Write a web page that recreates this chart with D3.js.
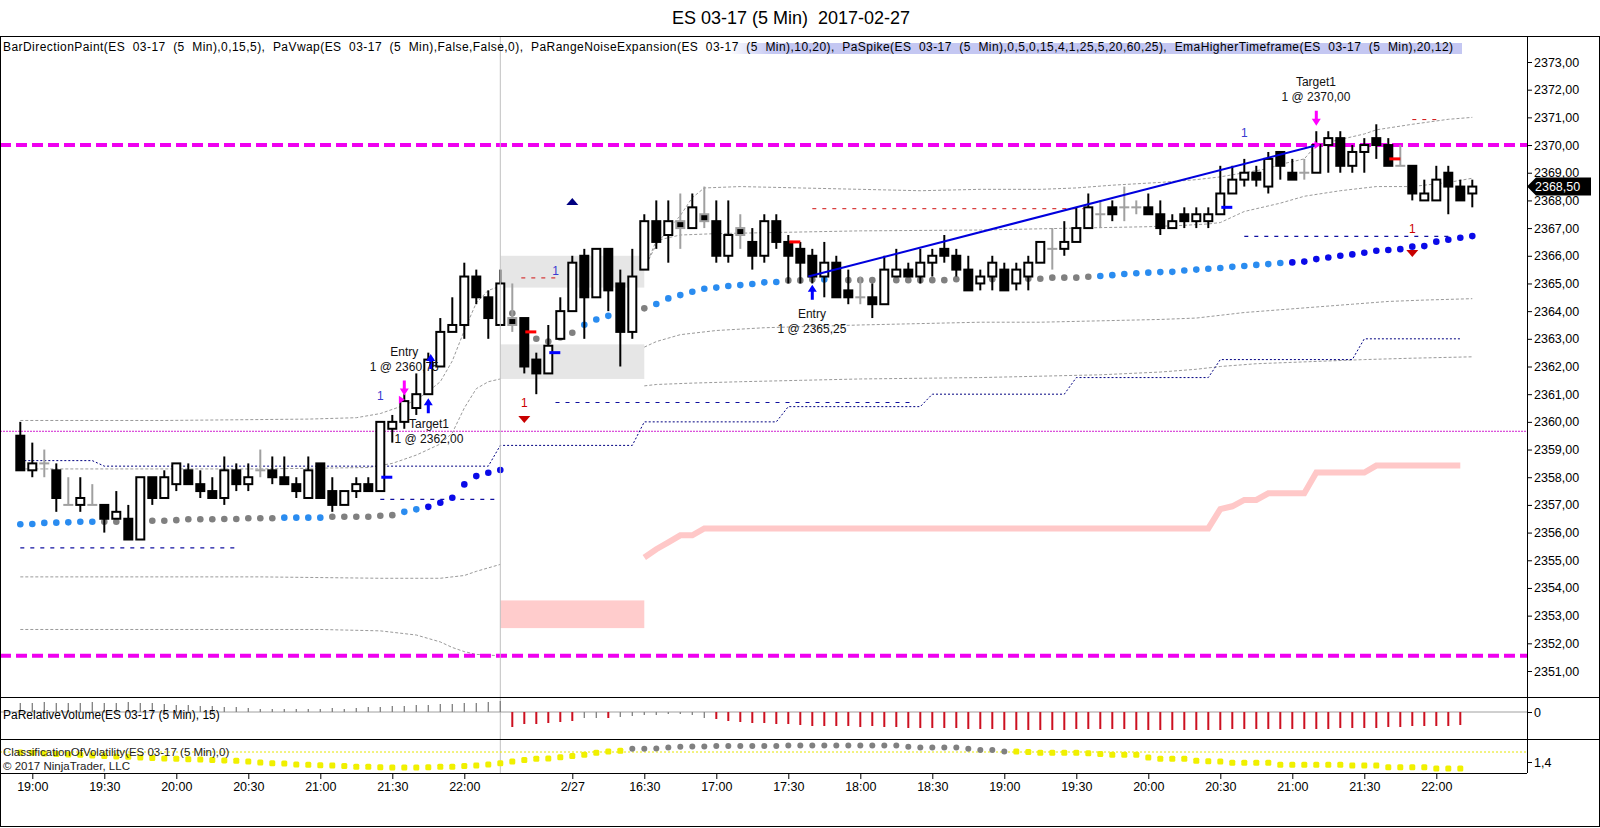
<!DOCTYPE html>
<html>
<head>
<meta charset="utf-8">
<script src="https://cdn.jsdelivr.net/npm/d3@7"></script>
<style>
body { margin: 0; background: #fff; }
svg { display: block; font-family: "Liberation Sans", Arial, sans-serif; }
</style>
</head>
<body>
<svg id="chart" width="1600" height="828"></svg>
<script>
////////////////////
/////// DATA ///////
////////////////////

// 5 min bars, index 0 = 18:55 first session, index 41 = 15:35 second session
var opens = [
  2359.5, 2358.25, 2358.5, 2358.25, 2357.0, 2357.0, 2357.0, 2357.0, 2356.5, 2356.5,
  2355.75, 2358.0, 2357.25, 2357.75, 2358.25, 2357.75, 2357.5, 2357.25, 2358.25, 2357.75,
  2358.25, 2358.25, 2358.0, 2357.75, 2357.25, 2358.5, 2357.5, 2357.0, 2357.5, 2357.75,
  2357.5, 2359.75, 2360.0, 2360.5, 2361.0, 2362.0, 2363.25, 2363.5, 2365.25, 2364.5,
  2363.5, 2363.75, 2363.75, 2362.25, 2361.75, 2363.0, 2364.0, 2366.0, 2364.5, 2366.25,
  2365.0, 2363.25, 2365.5, 2367.25, 2366.75, 2367.25, 2367.0, 2367.5, 2367.25, 2366.0,
  2367.0, 2366.5, 2366.0, 2367.25, 2366.5, 2366.25, 2366.0, 2365.25, 2365.75, 2364.75,
  2364.5, 2364.5, 2364.25, 2365.25, 2365.5, 2365.25, 2365.75, 2366.25, 2366.0, 2365.5,
  2365.0, 2365.25, 2365.5, 2365.0, 2365.25, 2365.75, 2366.25, 2366.25, 2366.5, 2367.0,
  2367.5, 2367.75, 2367.75, 2367.75, 2367.75, 2367.5, 2367.0, 2367.5, 2367.25, 2367.25,
  2367.5, 2368.25, 2368.75, 2369.0, 2368.5, 2369.75, 2369.0, 2369.0, 2369.0, 2370.0,
  2370.25, 2369.25, 2369.75, 2370.25, 2370.0, 2369.25, 2369.25, 2368.0, 2368.0, 2369.0,
  2368.5, 2368.25
];
var highs = [
  2360.0, 2359.25, 2359.0, 2358.5, 2358.0, 2358.0, 2357.75, 2357.0, 2357.5, 2357.0,
  2358.0, 2358.0, 2358.25, 2358.5, 2358.5, 2358.25, 2358.0, 2358.75, 2358.5, 2358.5,
  2359.0, 2358.75, 2358.75, 2358.0, 2358.75, 2358.5, 2358.0, 2357.5, 2358.0, 2358.0,
  2360.0, 2360.25, 2361.0, 2361.75, 2362.5, 2363.75, 2364.5, 2365.75, 2365.5, 2364.75,
  2365.5, 2365.0, 2363.75, 2362.5, 2363.5, 2364.5, 2366.0, 2366.25, 2366.25, 2366.25,
  2365.5, 2366.25, 2367.5, 2368.0, 2368.0, 2368.25, 2368.25, 2368.5, 2368.0, 2368.0,
  2367.5, 2367.0, 2367.5, 2367.5, 2366.75, 2366.5, 2366.25, 2366.5, 2366.0, 2365.5,
  2365.25, 2365.0, 2366.0, 2366.25, 2365.75, 2366.25, 2366.25, 2366.75, 2366.25, 2366.0,
  2365.5, 2366.0, 2365.75, 2365.75, 2366.0, 2366.5, 2367.0, 2367.25, 2367.75, 2368.25,
  2368.0, 2368.0, 2368.5, 2368.0, 2368.25, 2368.0, 2367.5, 2367.75, 2367.75, 2367.75,
  2369.25, 2369.25, 2369.5, 2369.25, 2369.75, 2369.75, 2369.5, 2369.5, 2370.5, 2370.5,
  2370.5, 2370.0, 2370.25, 2370.75, 2370.25, 2370.0, 2369.25, 2368.75, 2369.25, 2369.25,
  2368.75, 2368.75
];
var lows = [
  2358.25, 2358.0, 2358.0, 2356.75, 2357.0, 2356.75, 2357.0, 2356.0, 2356.5, 2355.75,
  2355.75, 2357.0, 2357.25, 2357.5, 2357.75, 2357.25, 2357.25, 2357.0, 2357.5, 2357.5,
  2358.0, 2357.75, 2357.75, 2357.25, 2357.25, 2357.25, 2356.75, 2357.0, 2357.25, 2357.5,
  2357.5, 2359.25, 2359.75, 2360.25, 2361.0, 2362.0, 2363.25, 2363.0, 2364.25, 2363.0,
  2363.5, 2363.25, 2361.75, 2361.0, 2361.75, 2363.0, 2364.0, 2363.0, 2364.5, 2364.0,
  2362.0, 2363.0, 2365.5, 2366.25, 2365.75, 2366.25, 2367.0, 2367.0, 2365.75, 2365.75,
  2366.25, 2365.5, 2365.75, 2366.25, 2365.0, 2365.0, 2365.0, 2364.5, 2364.5, 2364.25,
  2364.25, 2363.75, 2364.25, 2365.25, 2365.25, 2365.0, 2365.25, 2365.75, 2365.25, 2364.75,
  2364.75, 2364.75, 2364.75, 2364.75, 2364.75, 2365.75, 2365.5, 2366.0, 2366.5, 2367.0,
  2367.0, 2367.25, 2367.25, 2367.5, 2367.5, 2366.75, 2367.0, 2367.0, 2367.0, 2367.0,
  2367.5, 2368.25, 2368.5, 2368.5, 2368.25, 2368.75, 2368.75, 2368.75, 2369.0, 2369.0,
  2369.0, 2369.0, 2369.0, 2369.5, 2369.25, 2369.25, 2368.0, 2368.0, 2368.0, 2367.5,
  2368.0, 2367.75
];
var closes = [
  2358.25, 2358.5, 2358.5, 2357.25, 2357.0, 2357.25, 2357.0, 2356.5, 2356.75, 2355.75,
  2358.0, 2357.25, 2358.0, 2358.5, 2357.75, 2357.5, 2357.25, 2358.25, 2357.75, 2358.0,
  2358.25, 2358.0, 2357.75, 2357.5, 2358.25, 2357.25, 2357.0, 2357.5, 2357.75, 2357.5,
  2360.0, 2360.0, 2360.75, 2361.0, 2362.25, 2363.25, 2363.5, 2365.25, 2364.5, 2363.75,
  2365.0, 2363.5, 2362.0, 2361.75, 2362.75, 2364.0, 2365.75, 2364.5, 2366.25, 2364.75,
  2363.25, 2365.25, 2367.25, 2366.5, 2367.25, 2367.0, 2367.75, 2367.25, 2366.0, 2366.75,
  2366.75, 2366.0, 2367.25, 2366.5, 2366.0, 2365.75, 2365.25, 2365.75, 2364.5, 2364.5,
  2364.5, 2364.25, 2365.5, 2365.5, 2365.25, 2365.75, 2366.0, 2366.0, 2365.5, 2364.75,
  2365.25, 2365.75, 2364.75, 2365.5, 2365.75, 2366.5, 2366.25, 2366.5, 2367.0, 2367.75,
  2367.5, 2367.5, 2367.75, 2367.75, 2367.5, 2367.0, 2367.25, 2367.25, 2367.5, 2367.5,
  2368.25, 2368.75, 2369.0, 2368.75, 2369.5, 2369.25, 2368.75, 2369.0, 2370.0, 2370.25,
  2369.25, 2369.75, 2370.0, 2370.0, 2369.25, 2369.25, 2368.25, 2368.25, 2368.75, 2368.5,
  2368.0, 2368.5
];
// bars painted gray by BarDirectionPaint
var grayBars = [2, 4, 6, 20, 41, 55, 57, 60, 70, 86, 90, 92, 93, 107, 115];

// PaVwap dots and their colour (c = light blue, g = gray, b = blue)
var vwap = [
  2356.30, 2356.31, 2356.35, 2356.36, 2356.37, 2356.39, 2356.39, 2356.39, 2356.39, 2356.39,
  2356.39, 2356.43, 2356.43, 2356.45, 2356.48, 2356.48, 2356.48, 2356.49, 2356.49, 2356.52,
  2356.52, 2356.52, 2356.54, 2356.54, 2356.54, 2356.54, 2356.57, 2356.57, 2356.57, 2356.57,
  2356.61, 2356.63, 2356.75, 2356.84, 2356.93, 2357.08, 2357.26, 2357.74, 2358.04, 2358.16,
  2358.26,
  2363.92, 2363.44, 2363.00, 2362.90, 2363.05, 2363.22, 2363.51, 2363.70, 2363.83,
  2363.87, 2363.92, 2364.10, 2364.26, 2364.46, 2364.58, 2364.70, 2364.81, 2364.85, 2364.91,
  2364.94, 2364.98, 2365.04, 2365.05, 2365.11, 2365.11, 2365.14, 2365.14, 2365.12, 2365.12,
  2365.12, 2365.12, 2365.12, 2365.12, 2365.12, 2365.12, 2365.12, 2365.12, 2365.15, 2365.15,
  2365.15, 2365.15, 2365.15, 2365.15, 2365.17, 2365.17, 2365.21, 2365.21, 2365.21, 2365.24,
  2365.27, 2365.30, 2365.34, 2365.37, 2365.39, 2365.41, 2365.42, 2365.47, 2365.50, 2365.53,
  2365.56, 2365.60, 2365.63, 2365.67, 2365.70, 2365.74, 2365.76, 2365.79, 2365.88, 2365.94,
  2366.00, 2366.05, 2366.11, 2366.18, 2366.21, 2366.24, 2366.33, 2366.35, 2366.51, 2366.58,
  2366.65, 2366.71
];
var vwapColor =
  "ccccccc" + "ggggggggggggggg" + "cccc" + "gggggg" + "cc" + "bbbbbbb" +
  "gggggg" + "ccc" + "ggg" + "ccccccccccc" + "ggg" + "cc" +
  "ggggggggggggggggggggg" + "cccccccccccccccc" + "bbbbbbbbbbbbbbbb";

// PaVwap bands, [bar, price]
var s1Upper2 = [[0,2360.05],[12,2360.05],[24,2360.1],[28,2360.15],[30,2360.3],[31,2360.45],[32,2360.6],[33,2360.8],[34,2361.1],[35,2361.45],[36,2362.2],[37,2363.3],[38,2364.3],[39,2364.75],[40,2364.9]];
var s1Upper1 = [[0,2358.3],[20,2358.3],[29,2358.35],[31,2358.5],[33,2358.8],[35,2359.2],[36,2359.6],[37,2360.5],[38,2361.2],[39,2361.45],[40,2361.55]];
var s1Lower1 = [[0,2354.4],[20,2354.4],[30,2354.35],[35,2354.35],[37,2354.45],[38,2354.6],[40,2354.85]];
var s1Lower2 = [[0,2352.5],[25,2352.5],[30,2352.45],[33,2352.3],[35,2352.05],[36,2351.85],[37,2351.7],[38,2351.6],[40,2351.55]];
var s2Upper2 = [[52,2365.55],[53,2366.4],[54,2366.95],[55,2367.45],[56,2368.1],[57,2368.45],[60,2368.5],[65,2368.45],[70,2368.4],[75,2368.35],[80,2368.4],[85,2368.4],[88,2368.45],[91,2368.55],[95,2368.65],[98,2368.75],[100,2368.85],[102,2369.0],[104,2369.15],[105,2369.3],[107,2369.5],[108,2370.0],[110,2370.2],[112,2370.4],[113,2370.55],[116,2370.75],[119,2370.93],[121,2371.0]];
var s2Upper1 = [[52,2365.5],[53,2366.55],[55,2366.75],[58,2366.8],[64,2366.85],[70,2366.9],[80,2366.93],[88,2367.0],[94,2367.05],[97,2367.1],[99,2367.15],[100,2367.2],[102,2367.6],[105,2367.9],[107,2368.15],[110,2368.35],[113,2368.5],[116,2368.5],[119,2368.65],[121,2368.8]];
var s2Lower1 = [[52,2362.7],[53,2362.9],[55,2363.15],[58,2363.3],[62,2363.4],[66,2363.45],[70,2363.5],[75,2363.55],[80,2363.6],[85,2363.6],[90,2363.65],[95,2363.7],[98,2363.75],[100,2363.85],[102,2363.95],[105,2364.05],[108,2364.15],[111,2364.25],[114,2364.35],[117,2364.4],[121,2364.45]];
var s2Lower2 = [[52,2361.3],[53,2361.35],[56,2361.4],[60,2361.45],[65,2361.5],[70,2361.55],[80,2361.6],[90,2361.7],[95,2361.8],[98,2361.9],[100,2362.0],[103,2362.1],[106,2362.15],[109,2362.2],[112,2362.25],[116,2362.3],[121,2362.35]];

// EmaHigherTimeframe step line (navy) and the pink line, [bar, price]
var emaHtf = [[0,2358.6],[6,2358.6],[7,2358.4],[39,2358.4],[40,2359.15],[51,2359.15],[52,2360.0],[63,2360.0],[64,2360.55],[75,2360.55],[76,2361.0],[87,2361.0],[88,2361.6],[99,2361.6],[100,2362.25],[111,2362.25],[112,2363.0],[120,2363.0]];
var pinkLine = [[52,2355.1],[53,2355.4],[54,2355.65],[55,2355.9],[56,2355.9],[57,2356.15],[99,2356.15],[100,2356.85],[101,2356.95],[102,2357.18],[103,2357.18],[104,2357.42],[107,2357.42],[108,2358.17],[112,2358.17],[113,2358.42],[120,2358.42]];

// levels: [fromBar, toBar, price]
var redLevels = [[41.75,45,2365.2],[66,88.6,2367.7],[116,118.3,2370.92]];
var blueLevels = [[0,18.3,2355.45],[30,40,2357.2],[44.6,74.6,2360.7],[102,119.4,2366.7]];
var magentaThick = [2370.0, 2351.55];
var magentaThin = [2359.66];

// boxes: [fromBar, toBar, lowPrice, highPrice]
var grayBoxes = [[40,52,2364.85,2366.0],[40,52,2361.55,2362.8]];
var pinkBoxes = [[40,52,2352.55,2353.55]];

// trend line [bar, price]
var trendLine = [[65.67,2365.25],[108.1,2370.0]];

// trade markers
var entryTicks = [[30,2358.0],[44,2362.5],[100,2367.75]];
var exitTicks = [[42,2363.25],[64,2366.5],[114,2369.5]];
var sellArrows = [[32,2360.95],[108,2370.7]];
var buyArrows = [[34,2360.85],[34.2,2362.45],[66,2364.95]];
var fillFlags = [[31.8,2360.8],[108.1,2370.0]];
var redTriangles = [[42,2360.1],[116,2366.1]];
var navyTriangles = [[46,2367.94]];
var blueOnes = [[30,2360.97],[44.6,2365.5],[102,2370.47]];
var redOnes = [[42,2360.7],[116,2367.0]];
var tradeLabels = [
  {bar: 32, price: 2361.84, lines: ["Entry", "1 @ 2360,75"]},
  {bar: 34.06, price: 2359.24, lines: ["Target1", "1 @ 2362,00"]},
  {bar: 65.97, price: 2363.21, lines: ["Entry", "1 @ 2365,25"]},
  {bar: 107.97, price: 2371.59, lines: ["Target1", "1 @ 2370,00"]}
];

// PaRelativeVolume
var relVol = [
  9, 9, 10, 9, 9, 9, 10, 9, 9, 10,
  9, 9, 8, 7, 7, 6, 6, 5, 5, 4,
  3, 3, 3, 3, 3, 3, 4, 3, 4, 5,
  5, 6, 6, 7, 7, 8, 8, 9, 9, 10,
  11,
  -15, -12, -12, -11, -10, -9, -6, -6, -6,
  -5, -4, -3, -3, -2, -2, -3, -6, -7, -9,
  -10, -11, -11, -12, -12, -13, -14, -14, -14, -14,
  -15, -14, -15, -15, -16, -16, -16, -16, -16, -17,
  -17, -17, -18, -18, -18, -18, -18, -18, -17, -17,
  -17, -17, -17, -18, -18, -18, -18, -18, -18, -18,
  -18, -17, -17, -17, -17, -17, -17, -17, -17, -17,
  -16, -16, -16, -16, -15, -15, -14, -14, -14, -14, -13
];
var relVolColor =
  "ggggggggggggggggggggggggggggggggggggggggg" +
  "rrrrrr" + "gg" + "r" + "gggggggg" +
  "rrrrrrrrrrrrrrrrrrrrrrrrrrrrrrrrrrrrrrrrrrrrrrrrrrrrrrrrrrrrrrr";

// ClassificationOfVolatility
var volClass = [
  1.64, 1.63, 1.61, 1.60, 1.59, 1.58, 1.56, 1.55, 1.54, 1.53,
  1.51, 1.50, 1.49, 1.48, 1.47, 1.46, 1.45, 1.44, 1.43, 1.41,
  1.39, 1.37, 1.36, 1.34, 1.33, 1.32, 1.31, 1.30, 1.28, 1.28,
  1.27, 1.26, 1.26, 1.26, 1.27, 1.28, 1.28, 1.30, 1.31, 1.34,
  1.37,
  1.41, 1.45, 1.48, 1.49, 1.52, 1.55, 1.58, 1.63, 1.66,
  1.68, 1.73, 1.73, 1.74, 1.76, 1.78, 1.79, 1.79, 1.80, 1.80,
  1.80, 1.80, 1.80, 1.80, 1.81, 1.81, 1.81, 1.81, 1.81, 1.81,
  1.81, 1.81, 1.81, 1.81, 1.78, 1.76, 1.76, 1.76, 1.76, 1.73,
  1.70, 1.70, 1.66, 1.66, 1.65, 1.63, 1.63, 1.63, 1.63, 1.62,
  1.60, 1.58, 1.58, 1.58, 1.51, 1.48, 1.48, 1.48, 1.43, 1.42,
  1.41, 1.38, 1.38, 1.38, 1.38, 1.33, 1.33, 1.33, 1.33, 1.33,
  1.33, 1.31, 1.31, 1.31, 1.27, 1.27, 1.27, 1.27, 1.24, 1.24, 1.24
];
var volClassColor =
  "yyyyyyyyyyyyyyyyyyyyyyyyyyyyyyyyyyyyyyyyy" +
  "yyyyyyyyyy" + "gggggggggggggggggggggggggggggggg" +
  "yyyyyyyyyyyyyyyyyyyyyyyyyyyyyyyyyyyyyy";
var volThreshold = 1.65;

// axes
var priceTicks = [2351, 2352, 2353, 2354, 2355, 2356, 2357, 2358, 2359, 2360, 2361, 2362,
                  2363, 2364, 2365, 2366, 2367, 2368, 2369, 2370, 2371, 2372, 2373];
var timeTickBars = [1, 7, 13, 19, 25, 31, 37, 46, 52, 58, 64, 70, 76, 82, 88, 94, 100, 106, 112, 118];
var timeTickLabels = ["19:00", "19:30", "20:00", "20:30", "21:00", "21:30", "22:00", "2/27",
                      "16:30", "17:00", "17:30", "18:00", "18:30", "19:00", "19:30", "20:00",
                      "20:30", "21:00", "21:30", "22:00"];
var sessionBreakBar = 40;
var lastPrice = 2368.5;

var titleText = "ES 03-17 (5 Min)  2017-02-27";
var indicatorText = "BarDirectionPaint(ES  03-17  (5  Min),0,15,5),  PaVwap(ES  03-17  (5  Min),False,False,0),  PaRangeNoiseExpansion(ES  03-17  (5  Min),10,20),  PaSpike(ES  03-17  (5  Min),0,5,0,15,4,1,25,5,20,60,25),  EmaHigherTimeframe(ES  03-17  (5  Min),20,12)";

////////////////////
////// LAYOUT //////
////////////////////

var svg = d3.select("#chart");
var axisX = 1527;
var mainTop = 36, mainBottom = 697, volBottom = 739, covBottom = 773;

var x = d3.scaleLinear().domain([0, 121]).range([20.3, 1472.3]);
var y = d3.scaleLinear().domain([2351, 2373]).range([671, 62]);
var yVol = d3.scaleLinear().domain([-25, 15]).range([737, 697]);
var yCov = d3.scaleLinear().domain([1.125, 1.975]).range([773, 739]);
var fmt = function(v) { return v.toFixed(2).replace(".", ","); };

svg.append("rect").attr("width", 1600).attr("height", 828).attr("fill", "#fff");

var defs = svg.append("defs");
defs.append("clipPath").attr("id", "clipMain").append("rect")
  .attr("x", 0).attr("y", mainTop).attr("width", axisX).attr("height", mainBottom - mainTop);
var grad = defs.append("linearGradient").attr("id", "hl");
grad.append("stop").attr("offset", "0").attr("stop-color", "#c4c7f2").attr("stop-opacity", 0);
grad.append("stop").attr("offset", "0.06").attr("stop-color", "#c4c7f2").attr("stop-opacity", 1);
grad.append("stop").attr("offset", "1").attr("stop-color", "#c4c7f2").attr("stop-opacity", 1);

// title
svg.append("text").attr("x", 791).attr("y", 24).attr("text-anchor", "middle")
  .style("font-size", "18px").style("white-space", "pre").text(titleText);

var main = svg.append("g").attr("clip-path", "url(#clipMain)");

// indicator legend highlight
main.append("rect").attr("x", 728).attr("y", 43).attr("width", 734).attr("height", 11)
  .attr("fill", "url(#hl)");

// boxes
main.selectAll(".gbox").data(grayBoxes).enter().append("rect")
  .attr("x", function(d) { return x(d[0]); })
  .attr("width", function(d) { return x(d[1]) - x(d[0]); })
  .attr("y", function(d) { return y(d[3]); })
  .attr("height", function(d) { return y(d[2]) - y(d[3]); })
  .attr("fill", "#e6e6e6");
main.selectAll(".pbox").data(pinkBoxes).enter().append("rect")
  .attr("x", function(d) { return x(d[0]); })
  .attr("width", function(d) { return x(d[1]) - x(d[0]); })
  .attr("y", function(d) { return y(d[3]); })
  .attr("height", function(d) { return y(d[2]) - y(d[3]); })
  .attr("fill", "#ffcccc");

// session break
svg.append("line").attr("x1", x(sessionBreakBar)).attr("x2", x(sessionBreakBar))
  .attr("y1", mainTop).attr("y2", covBottom).attr("stroke", "#c0c0c0").attr("stroke-width", 1);

// thin magenta level
main.selectAll(".mthin").data(magentaThin).enter().append("line")
  .attr("x1", 0).attr("x2", axisX).attr("y1", function(d) { return y(d); }).attr("y2", function(d) { return y(d); })
  .attr("stroke", "#d020d0").attr("stroke-width", 1).attr("stroke-dasharray", "2,1");

var line = d3.line().x(function(d) { return x(d[0]); }).y(function(d) { return y(d[1]); });

// bands
[s1Upper2, s1Upper1, s1Lower1, s1Lower2, s2Upper2, s2Upper1, s2Lower1, s2Lower2].forEach(function(b) {
  main.append("path").attr("d", line(b)).attr("fill", "none")
    .attr("stroke", "#9a9a9a").attr("stroke-width", 1).attr("stroke-dasharray", "3,2");
});

// pink line
main.append("path").attr("d", line(pinkLine)).attr("fill", "none")
  .attr("stroke", "#ffc8c8").attr("stroke-width", 6);

// navy step line
main.append("path").attr("d", line(emaHtf)).attr("fill", "none")
  .attr("stroke", "#000080").attr("stroke-width", 1).attr("stroke-dasharray", "2,2");

// short levels
main.selectAll(".rlev").data(redLevels).enter().append("line")
  .attr("x1", function(d) { return x(d[0]); }).attr("x2", function(d) { return x(d[1]); })
  .attr("y1", function(d) { return y(d[2]); }).attr("y2", function(d) { return y(d[2]); })
  .attr("stroke", "#d01010").attr("stroke-width", 1).attr("stroke-dasharray", "4,6");
main.selectAll(".blev").data(blueLevels).enter().append("line")
  .attr("x1", function(d) { return x(d[0]); }).attr("x2", function(d) { return x(d[1]); })
  .attr("y1", function(d) { return y(d[2]); }).attr("y2", function(d) { return y(d[2]); })
  .attr("stroke", "#1010a0").attr("stroke-width", 1.2).attr("stroke-dasharray", "4,6");

// magenta thick levels
main.selectAll(".mthick").data(magentaThick).enter().append("line")
  .attr("x1", 0).attr("x2", axisX).attr("y1", function(d) { return y(d); }).attr("y2", function(d) { return y(d); })
  .attr("stroke", "#f000f0").attr("stroke-width", 4).attr("stroke-dasharray", "11,5");

// vwap dots
var dotColor = { c: "#2a8cf0", g: "#808080", b: "#0a0ae8" };
main.selectAll(".vw").data(vwap).enter().append("circle")
  .attr("cx", function(d, i) { return x(i); })
  .attr("cy", function(d) { return y(d); })
  .attr("r", 3.3)
  .attr("fill", function(d, i) { return dotColor[vwapColor[i]]; });

// candles
var bars = opens.map(function(o, i) {
  return { i: i, o: o, h: highs[i], l: lows[i], c: closes[i], gray: grayBars.indexOf(i) >= 0 };
});
var cg = main.append("g");
bars.forEach(function(b) {
  var col = b.gray ? "#a0a0a0" : "#000";
  var cx = x(b.i);
  cg.append("line").attr("x1", cx).attr("x2", cx).attr("y1", y(b.h)).attr("y2", y(b.l))
    .attr("stroke", col).attr("stroke-width", 2);
  if (b.o === b.c) {
    cg.append("line").attr("x1", cx - 5).attr("x2", cx + 5).attr("y1", y(b.o)).attr("y2", y(b.o))
      .attr("stroke", col).attr("stroke-width", 2);
  } else {
    var top = y(Math.max(b.o, b.c)), bot = y(Math.min(b.o, b.c));
    cg.append("rect").attr("x", cx - 4).attr("width", 8)
      .attr("y", top).attr("height", Math.max(bot - top, 1))
      .attr("fill", b.c > b.o ? "#fff" : "#000")
      .attr("stroke", col).attr("stroke-width", 2);
  }
});

// trend line
main.append("path").attr("d", line(trendLine)).attr("fill", "none")
  .attr("stroke", "#0000dd").attr("stroke-width", 2);

// entry / exit ticks
main.selectAll(".etick").data(entryTicks).enter().append("line")
  .attr("x1", function(d) { return x(d[0]) + 1; }).attr("x2", function(d) { return x(d[0] + 1); })
  .attr("y1", function(d) { return y(d[1]); }).attr("y2", function(d) { return y(d[1]); })
  .attr("stroke", "#0000ff").attr("stroke-width", 3);
main.selectAll(".xtick").data(exitTicks).enter().append("line")
  .attr("x1", function(d) { return x(d[0]) + 1; }).attr("x2", function(d) { return x(d[0] + 1); })
  .attr("y1", function(d) { return y(d[1]); }).attr("y2", function(d) { return y(d[1]); })
  .attr("stroke", "#ff0000").attr("stroke-width", 3);

// arrows
function arrowPath(tx, ty, dir) {
  // dir = 1 points down (tip at bottom), -1 points up
  var s = dir;
  return "M" + tx + "," + ty +
    " L" + (tx - 4.5) + "," + (ty - s * 7) +
    " L" + (tx - 1.5) + "," + (ty - s * 7) +
    " L" + (tx - 1.5) + "," + (ty - s * 15) +
    " L" + (tx + 1.5) + "," + (ty - s * 15) +
    " L" + (tx + 1.5) + "," + (ty - s * 7) +
    " L" + (tx + 4.5) + "," + (ty - s * 7) + " Z";
}
main.selectAll(".sarr").data(sellArrows).enter().append("path")
  .attr("d", function(d) { return arrowPath(x(d[0]), y(d[1]), 1); }).attr("fill", "#ff00ff");
main.selectAll(".barr").data(buyArrows).enter().append("path")
  .attr("d", function(d) { return arrowPath(x(d[0]), y(d[1]), -1); }).attr("fill", "#0000ff");
main.selectAll(".flag").data(fillFlags).enter().append("path")
  .attr("d", function(d) { var px = x(d[0]), py = y(d[1]); return "M" + (px - 3) + "," + (py - 4) + " L" + (px + 3) + "," + py + " L" + (px - 3) + "," + (py + 4) + " Z"; })
  .attr("fill", "#ff00ff");
main.selectAll(".rtri").data(redTriangles).enter().append("path")
  .attr("d", function(d) { var px = x(d[0]), py = y(d[1]); return "M" + (px - 6) + "," + (py - 3) + " L" + (px + 6) + "," + (py - 3) + " L" + px + "," + (py + 4) + " Z"; })
  .attr("fill", "#c80000");
main.selectAll(".ntri").data(navyTriangles).enter().append("path")
  .attr("d", function(d) { var px = x(d[0]), py = y(d[1]); return "M" + (px - 6) + "," + (py + 3) + " L" + (px + 6) + "," + (py + 3) + " L" + px + "," + (py - 4) + " Z"; })
  .attr("fill", "#000080");

// "1" labels
main.selectAll(".bone").data(blueOnes).enter().append("text")
  .attr("x", function(d) { return x(d[0]); }).attr("y", function(d) { return y(d[1]) + 5; })
  .attr("text-anchor", "middle").style("font-size", "12px").attr("fill", "#3a3ad0").text("1");
main.selectAll(".rone").data(redOnes).enter().append("text")
  .attr("x", function(d) { return x(d[0]); }).attr("y", function(d) { return y(d[1]) + 5; })
  .attr("text-anchor", "middle").style("font-size", "12px").attr("fill", "#cc0000").text("1");

// trade labels
tradeLabels.forEach(function(t) {
  var g = main.append("g");
  t.lines.forEach(function(s, k) {
    g.append("text").attr("x", x(t.bar)).attr("y", y(t.price) - (t.lines.length - 1 - k) * 15)
      .attr("text-anchor", "middle").style("font-size", "12px").attr("fill", "#111").text(s);
  });
});

// indicator legend text
svg.append("text").attr("x", 3).attr("y", 51).style("font-size", "12px")
  .style("white-space", "pre").attr("textLength", 1450).attr("lengthAdjust", "spacing")
  .text(indicatorText);

////////////////////
// LOWER PANELS ////
////////////////////

// relative volume
svg.append("line").attr("x1", 0).attr("x2", axisX).attr("y1", yVol(0)).attr("y2", yVol(0))
  .attr("stroke", "#a0a0a0").attr("stroke-width", 1);
svg.selectAll(".rv").data(relVol).enter().append("line")
  .attr("x1", function(d, i) { return x(i); }).attr("x2", function(d, i) { return x(i); })
  .attr("y1", yVol(0)).attr("y2", function(d) { return yVol(d); })
  .attr("stroke", function(d, i) { return relVolColor[i] === "r" ? "#cc1020" : "#808080"; })
  .attr("stroke-width", function(d, i) { return relVolColor[i] === "r" ? 2 : 1.3; });
svg.append("text").attr("x", 3).attr("y", 719).style("font-size", "12px")
  .text("PaRelativeVolume(ES 03-17 (5 Min), 15)");

// volatility classification
svg.append("line").attr("x1", 0).attr("x2", axisX).attr("y1", yCov(volThreshold)).attr("y2", yCov(volThreshold))
  .attr("stroke", "#e6e600").attr("stroke-width", 1).attr("stroke-dasharray", "2,2");
svg.selectAll(".vc").data(volClass).enter().append("rect")
  .attr("x", function(d, i) { return x(i) - 3; }).attr("y", function(d) { return yCov(d) - 3; })
  .attr("width", 6).attr("height", 6)
  .attr("rx", function(d, i) { return volClassColor[i] === "g" ? 3 : 1.5; })
  .attr("fill", function(d, i) { return volClassColor[i] === "g" ? "#808080" : "#f0f000"; });
svg.append("text").attr("x", 3).attr("y", 755.5).style("font-size", "11.5px").attr("fill", "#222")
  .text("ClassificationOfVolatility(ES 03-17 (5 Min),0)");
svg.append("text").attr("x", 3).attr("y", 769.5).style("font-size", "11.5px").attr("fill", "#222")
  .text("\u00a9 2017 NinjaTrader, LLC");

////////////////////
/////// AXES ///////
////////////////////

var yAxis = svg.append("g").attr("transform", "translate(" + axisX + ",0)")
  .call(d3.axisRight(y).tickValues(priceTicks).tickSize(5).tickPadding(2).tickFormat(fmt));
yAxis.select(".domain").remove();
yAxis.selectAll("text").style("font-size", "12.5px").style("font-family", "Liberation Sans, Arial, sans-serif").attr("fill", "#000");
yAxis.selectAll("line").attr("stroke", "#000");

var volAxis = svg.append("g").attr("transform", "translate(" + axisX + ",0)")
  .call(d3.axisRight(yVol).tickValues([0]).tickSize(5).tickPadding(2).tickFormat(function() { return "0"; }));
volAxis.select(".domain").remove();
volAxis.selectAll("text").style("font-size", "12.5px").style("font-family", "Liberation Sans, Arial, sans-serif");

var covAxis = svg.append("g").attr("transform", "translate(" + axisX + ",0)")
  .call(d3.axisRight(yCov).tickValues([1.4]).tickSize(5).tickPadding(2).tickFormat(function(d) { return d.toFixed(1).replace(".", ","); }));
covAxis.select(".domain").remove();
covAxis.selectAll("text").style("font-size", "12.5px").style("font-family", "Liberation Sans, Arial, sans-serif");

var xAxis = svg.append("g").attr("transform", "translate(0," + covBottom + ")")
  .call(d3.axisBottom(x).tickValues(timeTickBars).tickSize(6).tickPadding(3)
    .tickFormat(function(d, i) { return timeTickLabels[i]; }));
xAxis.select(".domain").remove();
xAxis.selectAll("text").style("font-size", "12.5px").style("font-family", "Liberation Sans, Arial, sans-serif").attr("fill", "#000");

// last price tag
var lp = y(lastPrice);
svg.append("path")
  .attr("d", "M" + axisX + "," + lp + " L" + (axisX + 9) + "," + (lp - 9) + " L" + (axisX + 64) + "," + (lp - 9) +
        " L" + (axisX + 64) + "," + (lp + 9) + " L" + (axisX + 9) + "," + (lp + 9) + " Z")
  .attr("fill", "#000");
svg.append("text").attr("x", axisX + 8).attr("y", lp + 4.5).style("font-size", "12.5px")
  .attr("fill", "#fff").text(fmt(lastPrice));

// frame and panel separators
svg.append("rect").attr("x", 0.5).attr("y", mainTop + 0.5).attr("width", 1599).attr("height", 790)
  .attr("fill", "none").attr("stroke", "#000");
svg.append("line").attr("x1", axisX + 0.5).attr("x2", axisX + 0.5).attr("y1", mainTop).attr("y2", covBottom).attr("stroke", "#000");
svg.append("line").attr("x1", 0).attr("x2", 1600).attr("y1", mainBottom + 0.5).attr("y2", mainBottom + 0.5).attr("stroke", "#000");
svg.append("line").attr("x1", 0).attr("x2", 1600).attr("y1", volBottom + 0.5).attr("y2", volBottom + 0.5).attr("stroke", "#000");
svg.append("line").attr("x1", 0).attr("x2", axisX).attr("y1", covBottom + 0.5).attr("y2", covBottom + 0.5).attr("stroke", "#000");
</script>
</body>
</html>
